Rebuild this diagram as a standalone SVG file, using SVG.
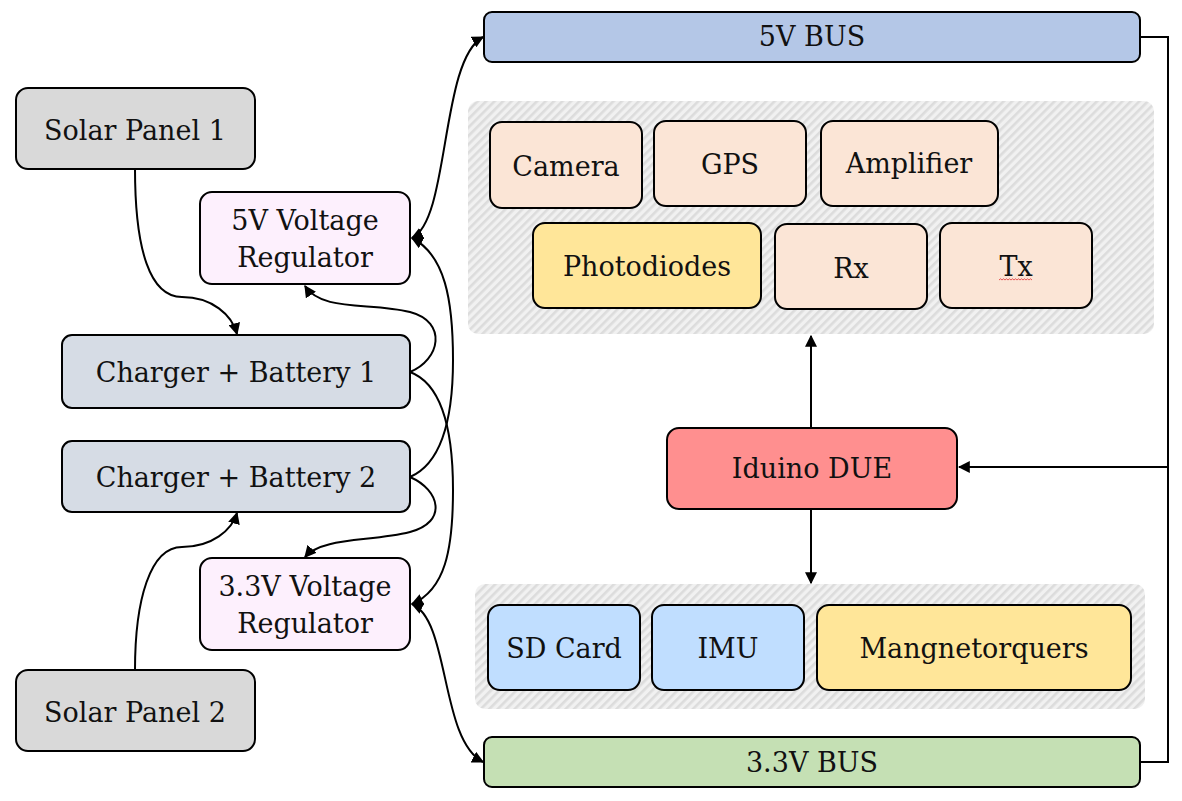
<svg xmlns="http://www.w3.org/2000/svg" width="1182" height="801" viewBox="0 0 1182 801">
<defs>
<pattern id="hatch" width="6" height="6" patternUnits="userSpaceOnUse" patternTransform="rotate(45)">
<rect width="6" height="6" fill="#f1f1f1"/>
<rect width="2.6" height="6" fill="#dcdcdc"/>
</pattern>
<marker id="arr" viewBox="0 0 10 10" refX="9" refY="5" markerWidth="12" markerHeight="12" markerUnits="userSpaceOnUse" orient="auto-start-reverse">
<path d="M0,0 L10,5 L0,10 Z" fill="#000"/>
</marker>
<style>
.n{stroke:#000;stroke-width:2}
.t{font-family:"DejaVu Serif","Liberation Serif",serif;font-size:27px;fill:#111;text-anchor:middle}
.c{fill:none;stroke:#000;stroke-width:2}
.grp{fill:url(#hatch)}
</style>
</defs>
<rect width="1182" height="801" fill="#fff"/>
<g id="group-upper"><rect class="grp" x="468" y="101" width="686" height="233" rx="10"/></g>
<g id="group-lower"><rect class="grp" x="475" y="584" width="670" height="125" rx="10"/></g>

<g id="connectors">
<path class="c" d="M1140,37 H1168 V762 H1140"/>
<path class="c" d="M1168,467 H959" marker-end="url(#arr)"/>
<path class="c" d="M811,428 V336" marker-end="url(#arr)"/>
<path class="c" d="M811,509 V583" marker-end="url(#arr)"/>
<path class="c" d="M412,238 C450,220 440,60 483,37" marker-start="url(#arr)" marker-end="url(#arr)"/>
<path class="c" d="M412,604 C450,620 440,740 483,762" marker-start="url(#arr)" marker-end="url(#arr)"/>
<path class="c" d="M135,169 C135,250 150,297 182,297 C212,297 232,315 237,334" marker-end="url(#arr)"/>
<path class="c" d="M135,670 C135,600 150,547 182,547 C212,547 232,530 237,513" marker-end="url(#arr)"/>
<path class="c" d="M410,372 C440,360 448,322 410,312 C370,302 322,312 305,286" marker-end="url(#arr)"/>
<path class="c" d="M410,477 C440,490 448,522 410,532 C370,542 322,537 305,557" marker-end="url(#arr)"/>
<path class="c" d="M410,372 C445,385 453,440 453,490 C453,550 445,590 412,604" marker-end="url(#arr)"/>
<path class="c" d="M410,477 C445,462 453,410 453,360 C453,300 445,255 412,238" marker-end="url(#arr)"/>
</g>

<g id="bus5"><rect class="n" x="484" y="12" width="656" height="50" rx="8" fill="#b4c7e7"/><text class="t" x="812" y="46">5V BUS</text></g>
<g id="bus33"><rect class="n" x="484" y="737" width="656" height="50" rx="8" fill="#c5e0b4"/><text class="t" x="812" y="772">3.3V BUS</text></g>

<g id="camera"><rect class="n" x="490" y="122" width="152" height="86" rx="12" fill="#fbe5d6"/><text class="t" x="566" y="176">Camera</text></g>
<g id="gps"><rect class="n" x="654" y="121" width="152" height="85" rx="12" fill="#fbe5d6"/><text class="t" x="730" y="174">GPS</text></g>
<g id="amplifier"><rect class="n" x="821" y="121" width="177" height="85" rx="12" fill="#fbe5d6"/><text class="t" x="909" y="173">Amplifier</text></g>
<g id="photodiodes"><rect class="n" x="533" y="223" width="228" height="85" rx="12" fill="#ffe699"/><text class="t" x="647" y="276">Photodiodes</text></g>
<g id="rx"><rect class="n" x="775" y="224" width="152" height="85" rx="12" fill="#fbe5d6"/><text class="t" x="851" y="278">Rx</text></g>
<g id="tx"><rect class="n" x="940" y="223" width="152" height="85" rx="12" fill="#fbe5d6"/><text class="t" x="1016" y="276">Tx</text>
<path d="M999,280 l1.5,-1.2 l1.5,1.2 l1.5,-1.2 l1.5,1.2 l1.5,-1.2 l1.5,1.2 l1.5,-1.2 l1.5,1.2 l1.5,-1.2 l1.5,1.2 l1.5,-1.2 l1.5,1.2 l1.5,-1.2 l1.5,1.2 l1.5,-1.2 l1.5,1.2 l1.5,-1.2 l1.5,1.2 l1.5,-1.2 l1.5,1.2 l1.5,-1.2 l1.5,1.2" fill="none" stroke="#e03030" stroke-width="0.8"/></g>

<g id="iduino"><rect class="n" x="667" y="428" width="290" height="81" rx="12" fill="#ff8f8f"/><text class="t" x="812" y="478">Iduino DUE</text></g>

<g id="sdcard"><rect class="n" x="488" y="605" width="152" height="85" rx="12" fill="#c0deff"/><text class="t" x="564" y="658">SD Card</text></g>
<g id="imu"><rect class="n" x="652" y="605" width="152" height="85" rx="12" fill="#c0deff"/><text class="t" x="728" y="658">IMU</text></g>
<g id="magnetorquers"><rect class="n" x="817" y="605" width="314" height="85" rx="12" fill="#ffe699"/><text class="t" x="974" y="658">Mangnetorquers</text></g>

<g id="solar1"><rect class="n" x="16" y="88" width="239" height="81" rx="12" fill="#d9d9d9"/><text class="t" x="135" y="140">Solar Panel 1</text></g>
<g id="reg5"><rect class="n" x="200" y="192" width="210" height="92" rx="12" fill="#fdf0fd"/><text class="t" x="305" y="230">5V Voltage</text><text class="t" x="305" y="267">Regulator</text></g>
<g id="charger1"><rect class="n" x="62" y="335" width="348" height="73" rx="10" fill="#d6dce5"/><text class="t" x="236" y="382">Charger + Battery 1</text></g>
<g id="charger2"><rect class="n" x="62" y="441" width="348" height="71" rx="10" fill="#d6dce5"/><text class="t" x="236" y="487">Charger + Battery 2</text></g>
<g id="reg33"><rect class="n" x="200" y="558" width="210" height="92" rx="12" fill="#fdf0fd"/><text class="t" x="305" y="596">3.3V Voltage</text><text class="t" x="305" y="633">Regulator</text></g>
<g id="solar2"><rect class="n" x="16" y="670" width="239" height="81" rx="12" fill="#d9d9d9"/><text class="t" x="135" y="722">Solar Panel 2</text></g>
</svg>
